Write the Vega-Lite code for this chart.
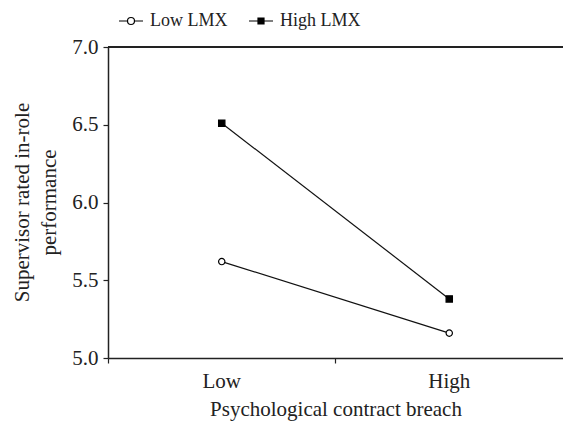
{
  "$schema": "https://vega.github.io/schema/vega-lite/v6.json",
  "width": 455,
  "height": 311,
  "autosize": {"type": "none"},
  "padding": {"left": 108, "top": 47, "right": 0, "bottom": 65},
  "background": "white",
  "config": {
    "font": "Liberation Serif",
    "view": {"stroke": null},
    "axis": {
      "domainColor": "#222",
      "domainWidth": 1.5,
      "tickColor": "#222",
      "tickWidth": 1.2,
      "labelColor": "#222",
      "titleColor": "#222",
      "labelFont": "Liberation Serif",
      "titleFont": "Liberation Serif",
      "titleFontWeight": "normal",
      "grid": false
    },
    "legend": {
      "orient": "none",
      "legendX": 10,
      "legendY": -39,
      "direction": "horizontal",
      "labelFont": "Liberation Serif",
      "labelFontSize": 18,
      "labelColor": "#222",
      "symbolSize": 576,
      "symbolStrokeColor": "black",
      "symbolStrokeWidth": 1.2,
      "labelOffset": 6,
      "columnPadding": 18
    }
  },
  "data": {
    "values": [
      {"breach": "Low", "lmx": "Low LMX", "perf": 5.62},
      {"breach": "High", "lmx": "Low LMX", "perf": 5.16},
      {"breach": "Low", "lmx": "High LMX", "perf": 6.51},
      {"breach": "High", "lmx": "High LMX", "perf": 5.38}
    ]
  },
  "layer": [
    {
      "mark": {"type": "rule", "color": "#222", "strokeWidth": 1.5},
      "encoding": {"y": {"datum": 7, "type": "quantitative"}}
    },
    {
      "mark": {"type": "line", "color": "#111", "strokeWidth": 1.2},
      "encoding": {
        "x": {
          "field": "breach", "type": "nominal", "sort": ["Low", "High"],
          "scale": {"type": "band", "paddingInner": 0, "paddingOuter": 0},
          "axis": {
            "title": "Psychological contract breach",
            "labelAngle": 0,
            "bandPosition": 0,
            "tickSize": 5,
            "labelFontSize": 21,
            "titleFontSize": 21,
            "labelPadding": 7,
            "titlePadding": 7
          }
        },
        "y": {
          "field": "perf", "type": "quantitative",
          "scale": {"domain": [5, 7], "nice": false, "zero": false},
          "axis": {
            "title": ["Supervisor rated in-role", "performance"],
            "values": [5, 5.5, 6, 6.5, 7],
            "format": ".1f",
            "tickSize": 5,
            "labelFontSize": 21,
            "labelPadding": 5,
            "titleFontSize": 21,
            "titleLineHeight": 27,
            "titleAngle": -90,
            "titleAlign": "center",
            "titleBaseline": "top",
            "titleX": -97,
            "titleY": 155
          }
        },
        "detail": {"field": "lmx"}
      }
    },
    {
      "mark": {"type": "point", "filled": true, "stroke": "black", "strokeWidth": 1.2, "size": 40, "opacity": 1},
      "encoding": {
        "x": {"field": "breach", "type": "nominal", "sort": ["Low", "High"]},
        "y": {"field": "perf", "type": "quantitative"},
        "shape": {
          "condition": {"test": "datum.lmx === 'Low LMX'", "value": "circle"},
          "value": "square"
        },
        "fill": {
          "condition": {"test": "datum.lmx === 'Low LMX'", "value": "white"},
          "value": "black"
        }
      }
    },
    {
      "transform": [{"filter": "datum.perf > 100"}],
      "mark": {"type": "point", "filled": true, "strokeWidth": 1.2, "opacity": 1},
      "encoding": {
        "x": {"field": "breach", "type": "nominal", "sort": ["Low", "High"]},
        "y": {"field": "perf", "type": "quantitative"},
        "shape": {
          "field": "lmx", "type": "nominal",
          "scale": {
            "domain": ["Low LMX", "High LMX"],
            "range": [
              "M-1,0H-0.29M0.29,0H1M-0.29,0A0.29,0.29,0,1,0,0.29,0A0.29,0.29,0,1,0,-0.29,0Z",
              "M-1,0H1M-0.25,-0.25H0.25V0.25H-0.25Z"
            ]
          },
          "legend": {"title": null}
        },
        "fill": {
          "field": "lmx", "type": "nominal",
          "scale": {"domain": ["Low LMX", "High LMX"], "range": ["white", "black"]},
          "legend": {"title": null}
        },
        "stroke": {
          "field": "lmx", "type": "nominal",
          "scale": {"domain": ["Low LMX", "High LMX"], "range": ["black", "black"]},
          "legend": {"title": null}
        }
      }
    }
  ]
}
